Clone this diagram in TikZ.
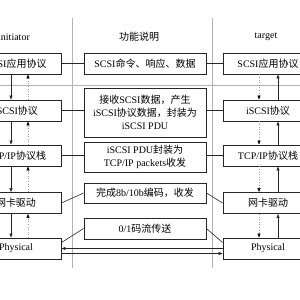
\documentclass[tikz,border=0pt]{standalone}
\usepackage{fontspec}
\setmainfont{Liberation Serif}
\newfontfamily\cjk{Noto Sans CJK SC}
\newcommand{\zh}[1]{{\cjk #1}}
\usetikzlibrary{arrows.meta, positioning}
\tikzstyle{layer} = [rectangle, draw=black!85, line width=0.9pt, minimum width=90pt, minimum height=21pt, inner sep=1pt, font=\fontsize{10}{12}\selectfont]
\tikzstyle{func} = [layer, minimum width=122pt, align=center, font=\fontsize{10}{13}\selectfont]
\tikzstyle{link} = [line width=0.6pt, black!85]
\tikzstyle{arrow} = [link, -{Triangle[length=4pt,width=3pt]}]
\tikzstyle{back} = [line width=0.6pt, black!40, dotted, -{Triangle[length=4pt,width=3pt,color=black]}]
\tikzstyle{sep} = [black!30, line width=0.8pt]
\tikzstyle{head} = [font=\fontsize{10}{12}\selectfont]

\begin{document}
\begin{tikzpicture}[x=1pt, y=-1pt]
        \useasboundingbox (0,0) rectangle (300,300);
        % separators
        \draw[sep] (72,18) -- (72,268);
        \draw[sep] (212,18) -- (212,268);
        \draw[sep] (0,85) -- (300,85);
        % headers
        \node[head] (hinit) at (14,37) {initiator};
        \node[head] (hfunc) at (139,37) {\zh{功能说明}};
        \node[head] (htarg) at (266,37) {target};
        % initiator stack
        \node[layer] (appL) at (16,63.5) {SCSI\zh{应用协议}};
        \node[layer] (iscsiL) at (16,110.5) {iSCSI\zh{协议}};
        \node[layer] (tcpL) at (16,155.5) {TCP/IP\zh{协议栈}};
        \node[layer] (netL) at (16,203) {\zh{网卡驱动}};
        \node[layer] (phyL) at (16,248.5) {Physical};
        % function descriptions
        \node[func] (cmd) at (145,63.5) {SCSI\zh{命令、响应、数据}};
        \node[func, minimum height=49pt] (pdu) at (145,112.5) {\zh{接收}SCSI\zh{数据，产生}\\iSCSI\zh{协议数据，封装为}\\iSCSI PDU};
        \node[func, minimum height=30pt] (pkt) at (145,157) {iSCSI PDU\zh{封装为}\\TCP/IP packets\zh{收发}};
        \node[func, minimum height=20pt] (enc) at (145,193) {\zh{完成}8b/10b\zh{编码，收发}};
        \node[func] (bits) at (145,228.5) {0/1\zh{码流传送}};
        % target stack
        \node[layer] (appR) at (268,63.5) {SCSI\zh{应用协议}};
        \node[layer] (iscsiR) at (268,110.5) {iSCSI\zh{协议}};
        \node[layer] (tcpR) at (268,155.5) {TCP/IP\zh{协议栈}};
        \node[layer] (netR) at (268,203) {\zh{网卡驱动}};
        \node[layer] (phyR) at (268,248.5) {Physical};
        % links to the descriptions
        \draw[link] (appL) -- (cmd) -- (appR);
        \draw[link] (iscsiL.east) -- (iscsiL.east -| pdu.west);
        \draw[link] (iscsiR.west -| pdu.east) -- (iscsiR.west);
        \draw[link] (tcpL.east) -- (tcpL.east -| pkt.west);
        \draw[link] (tcpR.west -| pkt.east) -- (tcpR.west);
        \draw[link] (netL.east) -- (enc.west);
        \draw[link] (enc.east) -- (netR.west);
        \draw[link] ([yshift=6pt]phyL.east) -- (bits.west);
        \draw[link] (bits.east) -- ([yshift=6pt]phyR.west);
        % vertical flows
        \coordinate (dnL) at (11,0);
        \coordinate (upL) at (28,0);
        \coordinate (dnR) at (259,0);
        \coordinate (upR) at (278,0);
        \draw[arrow] (dnL |- appL.south) -- (dnL |- iscsiL.north);
        \draw[arrow] (dnL |- iscsiL.south) -- (dnL |- tcpL.north);
        \draw[arrow] (dnL |- tcpL.south) -- (dnL |- netL.north);
        \draw[arrow] (dnL |- netL.south) -- (dnL |- phyL.north);
        \draw[back] (upL |- iscsiL.north) -- (upL |- appL.south);
        \draw[back] (upL |- tcpL.north) -- (upL |- iscsiL.south);
        \draw[back] (upL |- netL.north) -- (upL |- tcpL.south);
        \draw[back] (upL |- phyL.north) -- (upL |- netL.south);
        \draw[back] (dnR |- appR.south) -- (dnR |- iscsiR.north);
        \draw[back] (dnR |- iscsiR.south) -- (dnR |- tcpR.north);
        \draw[back] (dnR |- tcpR.south) -- (dnR |- netR.north);
        \draw[back] (dnR |- netR.south) -- (dnR |- phyR.north);
        \draw[arrow] (upR |- iscsiR.north) -- (upR |- appR.south);
        \draw[arrow] (upR |- tcpR.north) -- (upR |- iscsiR.south);
        \draw[arrow] (upR |- netR.north) -- (upR |- tcpR.south);
        \draw[arrow] (upR |- phyR.north) -- (upR |- netR.south);
        % physical medium
        \draw[arrow] (phyR.west) -- (phyL.east);
        \draw[arrow] ([yshift=-5pt]phyL.east) -- ([yshift=-5pt]phyR.west);
    \end{tikzpicture}
\end{document}
